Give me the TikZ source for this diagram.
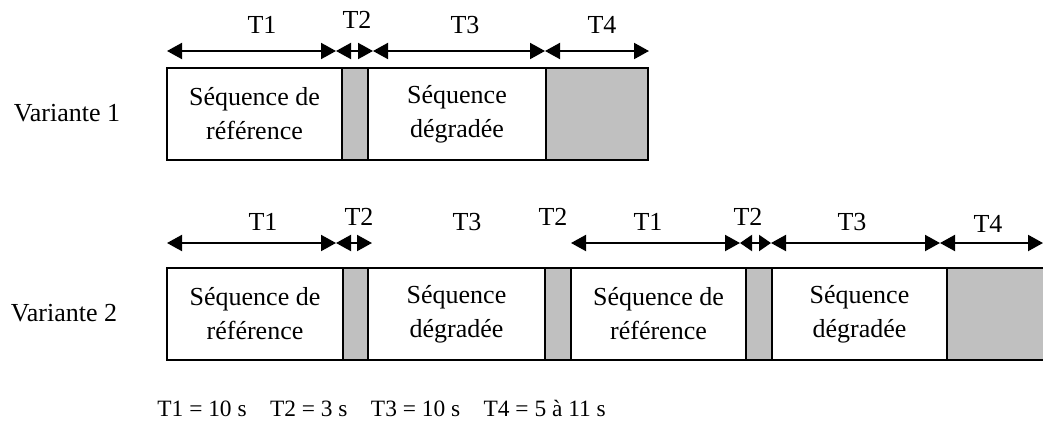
\documentclass[tikz,border=0pt]{standalone}
\usepackage{fontspec}
\setmainfont{Liberation Serif}
\usetikzlibrary{positioning,arrows.meta}
\definecolor{pausegray}{HTML}{C0C0C0}
\tikzset{
  seg/.style   = {shape=rectangle, draw, line width=1pt, inner sep=0pt, outer sep=0pt,
                  minimum height=46pt, minimum width=#1*0.5pt, align=center,
                  font=\fontsize{13}{17}\selectfont},
  seq/.style   = {seg=#1, fill=white},
  pause/.style = {seg=#1, fill=pausegray},
  span/.style  = {line width=1pt,
                  {Triangle[length=7.5pt,width=8pt]}-{Triangle[length=7.5pt,width=8pt]}},
  shortspan/.style = {line width=1pt,
                  {Triangle[length=6pt,width=8pt]}-{Triangle[length=6pt,width=8pt]}},
  tlabel/.style = {font=\fontsize{13}{17}\selectfont, inner sep=0pt}
}

\begin{document}
\begin{tikzpicture}[x=0.5pt, y=-0.5pt]
  \useasboundingbox (0,0) rectangle (1043,423);
  \clip (0,0) rectangle (1043,423);

  % variante 1
  \node[tlabel] (var1) at (67,113) {Variante 1};
  \node[seq=175, anchor=north west] (v1a) at (167,68) {Séquence de\\référence};
  \node[pause=26, right=0pt of v1a] (v1b) {};
  \node[seq=178, right=0pt of v1b] (v1c) {Séquence\\dégradée};
  \node[pause=102, right=0pt of v1c] (v1d) {};

  \foreach \x [count=\i] in {167,336,373,545,649}
    \coordinate (a\i) at (\x,51);
  \draw[span] (a1) -- (a2);
  \draw[span] (a2) -- (a3);
  \draw[span] (a3) -- (a4);
  \draw[span] (a4) -- (a5);

  \node[tlabel] (l1a) at (262,25) {T1};
  \node[tlabel] (l1b) at (357,20) {T2};
  \node[tlabel] (l1c) at (465,25) {T3};
  \node[tlabel] (l1d) at (602,25) {T4};

  % variante 2
  \node[tlabel] (var2) at (64,313) {Variante 2};
  \node[seq=176, anchor=north west] (v2a) at (167,268) {Séquence de\\référence};
  \node[pause=25, right=0pt of v2a] (v2b) {};
  \node[seq=177, right=0pt of v2b] (v2c) {Séquence\\dégradée};
  \node[pause=26, right=0pt of v2c] (v2d) {};
  \node[seq=175, right=0pt of v2d] (v2e) {Séquence de\\référence};
  \node[pause=26, right=0pt of v2e] (v2f) {};
  \node[seq=175, right=0pt of v2f] (v2g) {Séquence\\dégradée};
  \node[pause=120, right=0pt of v2g] (v2h) {};

  \foreach \x [count=\i] in {167,336,372,571,740,771,940,1043}
    \coordinate (b\i) at (\x,243);
  \draw[span] (b1) -- (b2);
  \draw[span] (b2) -- (b3);
  \draw[span] (b4) -- (b5);
  \draw[shortspan] (b5) -- (b6);
  \draw[span] (b6) -- (b7);
  \draw[span] (b7) -- (b8);

  \node[tlabel] (l2a) at (263,222) {T1};
  \node[tlabel] (l2b) at (359,217) {T2};
  \node[tlabel] (l2c) at (467,222) {T3};
  \node[tlabel] (l2d) at (553,217) {T2};
  \node[tlabel] (l2e) at (648,222) {T1};
  \node[tlabel] (l2f) at (748,217) {T2};
  \node[tlabel] (l2g) at (852,222) {T3};
  \node[tlabel] (l2h) at (988,224) {T4};

  % durees
  \node[tlabel, anchor=west, font=\fontsize{11.7}{14}\selectfont] (durees) at (157,408)
    {T1 = 10 s\hspace{1em}T2 = 3 s\hspace{1em}T3 = 10 s\hspace{1em}T4 = 5 à 11 s};
\end{tikzpicture}
\end{document}
